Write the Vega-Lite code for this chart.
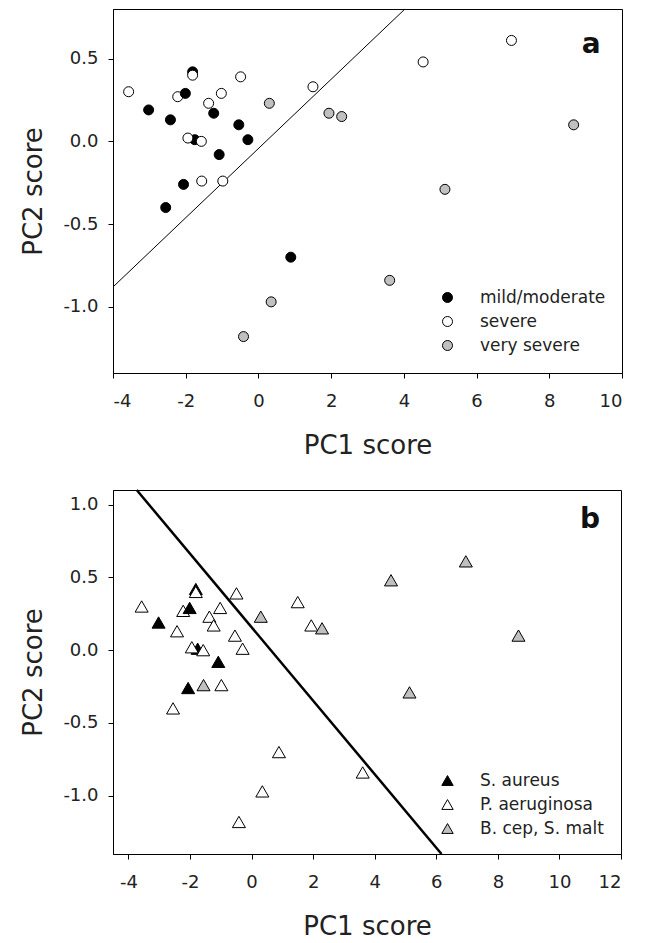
{
  "$schema": "https://vega.github.io/schema/vega-lite/v6.json",
  "padding": {"left": 20, "top": 6, "right": 10, "bottom": 5},
  "background": "white",
  "datasets": {
    "pts": [
      {"pc1": -3.57, "pc2": 0.30, "severity": "severe", "organism": "P. aeruginosa"},
      {"pc1": -1.81, "pc2": 0.42, "severity": "mild/moderate", "organism": "S. aureus"},
      {"pc1": -1.81, "pc2": 0.40, "severity": "severe", "organism": "P. aeruginosa"},
      {"pc1": -2.22, "pc2": 0.27, "severity": "severe", "organism": "P. aeruginosa"},
      {"pc1": -2.01, "pc2": 0.29, "severity": "mild/moderate", "organism": "S. aureus"},
      {"pc1": -1.37, "pc2": 0.23, "severity": "severe", "organism": "P. aeruginosa"},
      {"pc1": -1.02, "pc2": 0.29, "severity": "severe", "organism": "P. aeruginosa"},
      {"pc1": -0.49, "pc2": 0.39, "severity": "severe", "organism": "P. aeruginosa"},
      {"pc1": -3.02, "pc2": 0.19, "severity": "mild/moderate", "organism": "S. aureus"},
      {"pc1": -2.42, "pc2": 0.13, "severity": "mild/moderate", "organism": "P. aeruginosa"},
      {"pc1": -1.23, "pc2": 0.17, "severity": "mild/moderate", "organism": "P. aeruginosa"},
      {"pc1": -0.54, "pc2": 0.10, "severity": "mild/moderate", "organism": "P. aeruginosa"},
      {"pc1": -0.29, "pc2": 0.01, "severity": "mild/moderate", "organism": "P. aeruginosa"},
      {"pc1": -1.75, "pc2": 0.01, "severity": "mild/moderate", "organism": "S. aureus"},
      {"pc1": -1.94, "pc2": 0.02, "severity": "severe", "organism": "P. aeruginosa"},
      {"pc1": -1.57, "pc2": 0.00, "severity": "severe", "organism": "P. aeruginosa"},
      {"pc1": -1.08, "pc2": -0.08, "severity": "mild/moderate", "organism": "S. aureus"},
      {"pc1": -2.06, "pc2": -0.26, "severity": "mild/moderate", "organism": "S. aureus"},
      {"pc1": -1.56, "pc2": -0.24, "severity": "severe", "organism": "B. cep, S. malt"},
      {"pc1": -0.98, "pc2": -0.24, "severity": "severe", "organism": "P. aeruginosa"},
      {"pc1": -2.55, "pc2": -0.40, "severity": "mild/moderate", "organism": "P. aeruginosa"},
      {"pc1": 0.89, "pc2": -0.70, "severity": "mild/moderate", "organism": "P. aeruginosa"},
      {"pc1": 1.50, "pc2": 0.33, "severity": "severe", "organism": "P. aeruginosa"},
      {"pc1": 4.53, "pc2": 0.48, "severity": "severe", "organism": "B. cep, S. malt"},
      {"pc1": 6.96, "pc2": 0.61, "severity": "severe", "organism": "B. cep, S. malt"},
      {"pc1": 0.30, "pc2": 0.23, "severity": "very severe", "organism": "B. cep, S. malt"},
      {"pc1": 1.94, "pc2": 0.17, "severity": "very severe", "organism": "P. aeruginosa"},
      {"pc1": 2.29, "pc2": 0.15, "severity": "very severe", "organism": "B. cep, S. malt"},
      {"pc1": 8.67, "pc2": 0.10, "severity": "very severe", "organism": "B. cep, S. malt"},
      {"pc1": 5.13, "pc2": -0.29, "severity": "very severe", "organism": "B. cep, S. malt"},
      {"pc1": 3.61, "pc2": -0.84, "severity": "very severe", "organism": "P. aeruginosa"},
      {"pc1": 0.35, "pc2": -0.97, "severity": "very severe", "organism": "P. aeruginosa"},
      {"pc1": -0.41, "pc2": -1.18, "severity": "very severe", "organism": "P. aeruginosa"}
    ],
    "lineA": [
      {"pc1": -4, "pc2": -0.88},
      {"pc1": 4.03, "pc2": 0.80}
    ],
    "lineB": [
      {"pc1": -3.73, "pc2": 1.1},
      {"pc1": 6.17, "pc2": -1.4}
    ],
    "labA": [{"panel": "a"}],
    "labB": [{"panel": "b"}]
  },
  "config": {
    "font": "DejaVu Sans",
    "view": {"stroke": "#000", "strokeWidth": 1},
    "axis": {
      "grid": false,
      "domainColor": "#000",
      "tickColor": "#000",
      "tickSize": 5,
      "labelFontSize": 18,
      "titleFontSize": 26,
      "titleFontWeight": "normal",
      "labelColor": "#222",
      "titleColor": "#222",
      "labelFont": "DejaVu Sans",
      "titleFont": "DejaVu Sans"
    },
    "legend": {
      "labelFontSize": 17,
      "labelColor": "#222",
      "labelFont": "DejaVu Sans",
      "symbolSize": 100,
      "symbolStrokeColor": "#000",
      "symbolStrokeWidth": 1,
      "rowPadding": 6,
      "labelOffset": 24,
      "padding": 0
    }
  },
  "resolve": {"scale": {"fill": "independent"}, "legend": {"fill": "independent"}},
  "spacing": 25,
  "vconcat": [
    {
      "width": 509,
      "height": 364,
      "layer": [
        {
          "data": {"name": "lineA"},
          "mark": {"type": "line", "color": "#000", "strokeWidth": 1},
          "encoding": {
            "x": {"field": "pc1", "type": "quantitative", "scale": {"domain": [-4, 10], "nice": false, "zero": false},
                  "axis": {"values": [-4, -2, 0, 2, 4, 6, 8, 10], "labelExpr": "replace(format(datum.value, 'd'), '\u2212', '-')", "title": "PC1 score", "labelPadding": 14, "titlePadding": 22}},
            "y": {"field": "pc2", "type": "quantitative", "scale": {"domain": [-1.4, 0.8], "nice": false, "zero": false},
                  "axis": {"values": [-1.0, -0.5, 0.0, 0.5], "labelExpr": "replace(format(datum.value, '.1f'), '\u2212', '-')", "title": "PC2 score", "labelPadding": 10, "titlePadding": 16}}
          }
        },
        {
          "data": {"name": "pts"},
          "mark": {"type": "point", "shape": "circle", "filled": true, "size": 100, "stroke": "#000", "strokeWidth": 1, "opacity": 1},
          "encoding": {
            "x": {"field": "pc1", "type": "quantitative"},
            "y": {"field": "pc2", "type": "quantitative"},
            "fill": {"field": "severity", "type": "nominal",
                     "scale": {"domain": ["mild/moderate", "severe", "very severe"], "range": ["#000000", "#ffffff", "#c0c0c0"]},
                     "legend": {"orient": "none", "legendX": 326, "legendY": 280, "title": null, "symbolType": "circle"}}
          }
        },
        {
          "data": {"name": "labA"},
          "mark": {"type": "text", "fontSize": 28, "fontWeight": "bold", "color": "#111", "align": "center", "baseline": "middle"},
          "encoding": {
            "x": {"datum": 9.15},
            "y": {"datum": 0.58},
            "text": {"field": "panel"}
          }
        }
      ]
    },
    {
      "width": 508,
      "height": 364,
      "layer": [
        {
          "data": {"name": "lineB"},
          "mark": {"type": "line", "color": "#000", "strokeWidth": 2.5},
          "encoding": {
            "x": {"field": "pc1", "type": "quantitative", "scale": {"domain": [-4.5, 12], "nice": false, "zero": false},
                  "axis": {"values": [-4, -2, 0, 2, 4, 6, 8, 10, 12], "labelExpr": "replace(format(datum.value, 'd'), '\u2212', '-')", "title": "PC1 score", "labelPadding": 14, "titlePadding": 22}},
            "y": {"field": "pc2", "type": "quantitative", "scale": {"domain": [-1.4, 1.1], "nice": false, "zero": false},
                  "axis": {"values": [-1.0, -0.5, 0.0, 0.5, 1.0], "labelExpr": "replace(format(datum.value, '.1f'), '\u2212', '-')", "title": "PC2 score", "labelPadding": 10, "titlePadding": 16}}
          }
        },
        {
          "data": {"name": "pts"},
          "mark": {"type": "point", "shape": "triangle-up", "filled": true, "size": 170, "stroke": "#000", "strokeWidth": 1, "opacity": 1},
          "encoding": {
            "x": {"field": "pc1", "type": "quantitative"},
            "y": {"field": "pc2", "type": "quantitative"},
            "fill": {"field": "organism", "type": "nominal",
                     "scale": {"domain": ["S. aureus", "P. aeruginosa", "B. cep, S. malt"], "range": ["#000000", "#ffffff", "#c0c0c0"]},
                     "legend": {"orient": "none", "legendX": 326, "legendY": 282, "title": null, "symbolType": "triangle-up", "symbolSize": 130, "rowPadding": 6}}
          }
        },
        {
          "data": {"name": "labB"},
          "mark": {"type": "text", "fontSize": 28, "fontWeight": "bold", "color": "#111", "align": "center", "baseline": "middle"},
          "encoding": {
            "x": {"datum": 10.99},
            "y": {"datum": 0.895},
            "text": {"field": "panel"}
          }
        }
      ]
    }
  ]
}
